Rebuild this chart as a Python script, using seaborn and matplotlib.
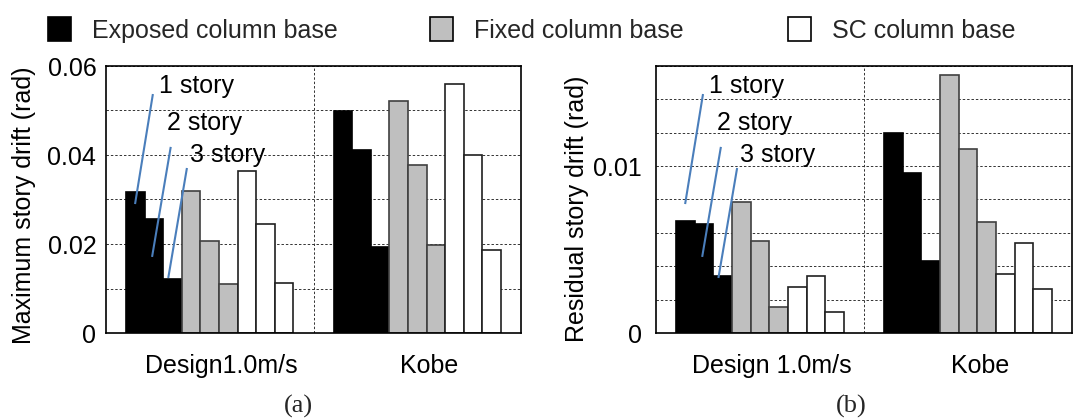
import numpy as np
import pandas as pd
import seaborn as sns
import matplotlib
matplotlib.use("Agg")
import matplotlib.pyplot as plt
import matplotlib.transforms as mtransforms
from matplotlib.patches import Patch
from matplotlib.ticker import MultipleLocator, FixedLocator

# ---- data -------------------------------------------------------------
cases_a = ["Design1.0m/s", "Kobe"]
cases_b = ["Design 1.0m/s", "Kobe"]
bases = ["Exposed column base", "Fixed column base", "SC column base"]
stories = ["1 story", "2 story", "3 story"]

# values ordered base by base, 1/2/3 story inside each base
max_drift_design = [0.0316, 0.0256, 0.0121, 0.0320, 0.0206, 0.0109, 0.0363, 0.0245, 0.0112]
max_drift_kobe = [0.0498, 0.0411, 0.0193, 0.0521, 0.0377, 0.0198, 0.0560, 0.0399, 0.0186]
res_drift_design = [0.00674, 0.00654, 0.00344, 0.00784, 0.00550, 0.00158, 0.00276, 0.00340, 0.00126]
res_drift_kobe = [0.01200, 0.00960, 0.00430, 0.01548, 0.01100, 0.00664, 0.00352, 0.00542, 0.00262]

base_fill = {"Exposed column base": "#000000",
             "Fixed column base": "#bfbfbf",
             "SC column base": "#ffffff"}
base_edge = {"Exposed column base": "#000000",
             "Fixed column base": "#404040",
             "SC column base": "#202020"}

series = [f"{b} | {s}" for b in bases for s in stories]


def long_table(cases, design_vals, kobe_vals):
    rows = []
    for case, vals in zip(cases, [design_vals, kobe_vals]):
        for name, v in zip(series, vals):
            rows.append({"case": case, "series": name, "value": v})
    return pd.DataFrame(rows)


df_a = long_table(cases_a, max_drift_design, max_drift_kobe)
df_b = long_table(cases_b, res_drift_design, res_drift_kobe)

# ---- style ------------------------------------------------------------
sns.set_theme(style="white")
plt.rcParams["font.family"] = ["Liberation Sans", "DejaVu Sans"]
plt.rcParams["font.size"] = 18

fig = plt.figure(figsize=(10.77, 4.19), dpi=100)
ax_a = fig.add_axes([106 / 1077, 86 / 419, 415 / 1077, 267 / 419])
ax_b = fig.add_axes([656 / 1077, 86 / 419, 416 / 1077, 267 / 419])

palette = {s: base_fill[s.split(" | ")[0]] for s in series}
label_shift = mtransforms.ScaledTranslation(12 / 100, 0, fig.dpi_scale_trans)
blue = "#4a7ebb"
grid_style = dict(color="#333333", linestyle=(0, (2.5, 2)), linewidth=0.7)


def draw_panel(ax, df, cases, ymax, major, minor, ylabel, ylab_xy, ypad):
    sns.barplot(data=df, x="case", y="value", hue="series", order=cases,
                hue_order=series, palette=palette, width=0.805, saturation=1,
                linewidth=1.2, legend=False, ax=ax, zorder=2)
    for name, cont in zip(series, ax.containers):
        for bar in cont:
            bar.set_edgecolor(base_edge[name.split(" | ")[0]])

    ax.set_xlim(-0.5, 1.5)
    ax.set_ylim(0, ymax)
    ax.yaxis.set_major_locator(FixedLocator(major))
    ax.yaxis.set_minor_locator(MultipleLocator(minor))
    ax.set_yticklabels(["0" if v == 0 else f"{v:g}" for v in major])
    ax.grid(False)
    ax.grid(True, which="both", axis="y", zorder=0.5, **grid_style)
    ax.axvline(0.5, zorder=0.5, **grid_style)
    ax.set_axisbelow(True)

    ax.tick_params(axis="both", which="both", length=0, labelsize=18,
                   colors="#000000")
    ax.tick_params(axis="x", pad=15)
    ax.tick_params(axis="y", pad=ypad)
    for lbl in ax.get_xticklabels():
        lbl.set_transform(lbl.get_transform() + label_shift)

    ax.set_xlabel("")
    ax.set_ylabel(ylabel, fontsize=18, color="#000000")
    ax.yaxis.set_label_coords(*ylab_xy)

    for sp in ax.spines.values():
        sp.set_visible(True)
        sp.set_color("#000000")
        sp.set_linewidth(1.2)

    # story callouts
    callouts = [("1 story", (0.127, 0.925), (0.113, 0.895), (0.070, 0.483)),
                ("2 story", (0.146, 0.787), (0.156, 0.697), (0.111, 0.285)),
                ("3 story", (0.202, 0.667), (0.195, 0.618), (0.150, 0.206))]
    for txt, tpos, p0, p1 in callouts:
        ax.plot([p0[0], p1[0]], [p0[1], p1[1]], color=blue, linewidth=1.5,
                transform=ax.transAxes, zorder=4, solid_capstyle="butt")
        ax.text(tpos[0], tpos[1], txt, transform=ax.transAxes, fontsize=18,
                ha="left", va="center", color="#000000", zorder=5)


draw_panel(ax_a, df_a, cases_a, 0.06, [0, 0.02, 0.04, 0.06], 0.01,
           "Maximum story drift (rad)", (-0.168, 0.48), 7)
draw_panel(ax_b, df_b, cases_b, 0.016, [0, 0.01], 0.002,
           "Residual story drift (rad)", (-0.160, 0.465), 10)

# panel tags
tag_font = dict(fontsize=19, family=["Liberation Serif", "DejaVu Serif"])
fig.text(298 / 1077, 1 - 406 / 419, "(a)", ha="center", va="center", **tag_font)
fig.text(851 / 1077, 1 - 406 / 419, "(b)", ha="center", va="center", **tag_font)

# legend across the top
legend_x = [48 / 1077, 430 / 1077, 788 / 1077]
for b, x in zip(bases, legend_x):
    h = Patch(facecolor=base_fill[b], edgecolor="#000000", linewidth=1.2)
    fig.legend(handles=[h], labels=[b], loc="center left",
               bbox_to_anchor=(x, 1 - 30 / 419), frameon=False, fontsize=18,
               handlelength=0.9, handleheight=1.05, handletextpad=0.85,
               borderpad=0, borderaxespad=0)

fig.savefig("out.png", dpi=100)
